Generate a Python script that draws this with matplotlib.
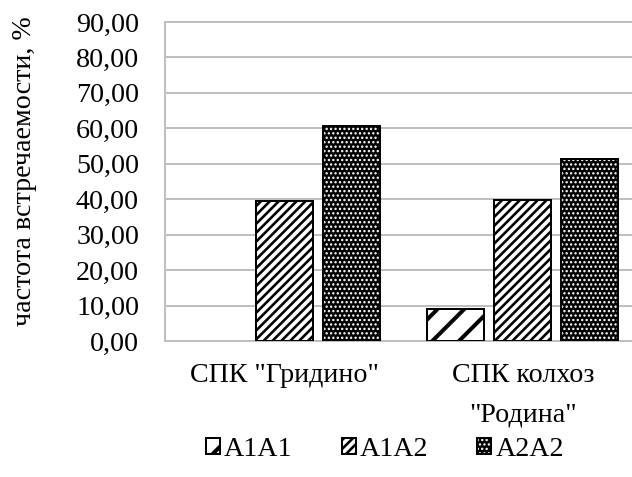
import matplotlib
matplotlib.use("Agg")
import matplotlib.pyplot as plt
import numpy as np
from matplotlib.legend_handler import HandlerTuple
from matplotlib.patches import Rectangle

plt.rcParams["font.family"] = ["Liberation Serif", "DejaVu Serif"]

# genotype frequencies by farm, %
farms = ['СПК "Гридино"', 'СПК колхоз\n"Родина"']
genotypes = ["A1A1", "A1A2", "A2A2"]
a1a1 = [0.0, 9.0]
a1a2 = [39.4, 39.7]
a2a2 = [60.6, 51.3]
yticks = np.arange(0, 91, 10)
ytick_labels = [f"{v:.2f}".replace(".", ",") for v in yticks]

DPI = 80
W, H = 632, 477
PT = 72 / DPI  # one pixel in points
FS = 28 * PT

# hatch pattern -> hatch line width (points)
HATCH_LW = {"/": 4.0 * PT, "///": 2.6 * PT, "...": 1.5 * PT}

fig = plt.figure(figsize=(W / DPI, H / DPI), dpi=DPI)
ax = fig.add_axes([165 / W, 136 / H, 477 / W, 319 / H])

x = np.arange(len(farms))
width = 0.239
step = 0.281
grid_c = "#bfbfbf"


def hatched_bars(xpos, vals, hatch, face, hcolor):
    fill = ax.bar(xpos, vals, width, color=face, edgecolor=hcolor,
                  hatch=hatch, linewidth=2 * PT, zorder=3)
    edges = ax.bar(xpos, vals, width, color="none", edgecolor="black",
                   linewidth=2 * PT, zorder=4)
    for pf, pe, v in zip(fill, edges, vals):
        pf.set_visible(v > 0)
        pe.set_visible(v > 0)
    return fill[-1], edges[-1]


h1 = hatched_bars(x - step, a1a1, "/", "white", "black")
h2 = hatched_bars(x, a1a2, "///", "white", "black")
h3 = hatched_bars(x + step, a2a2, "...", "black", "white")

ax.set_xlim(-0.5, len(farms) - 0.5)
ax.set_ylim(0, 90)
ax.set_yticks(yticks)
ax.set_yticklabels(ytick_labels, fontsize=FS)
ax.set_xticks(x)
ax.set_xticklabels(farms, fontsize=FS, linespacing=1.75)
ax.tick_params(axis="both", length=0)
ax.tick_params(axis="y", pad=26 * PT)
ax.tick_params(axis="x", pad=22 * PT)

ax.yaxis.grid(True, color=grid_c, linewidth=2 * PT, zorder=0)
ax.set_axisbelow(True)
for s in ax.spines.values():
    s.set_color(grid_c)
    s.set_linewidth(2 * PT)

ax.set_ylabel("частота встречаемости, %", fontsize=FS)
ax.yaxis.set_label_coords((37 - 165) / 477, (341 - 171) / 319)

fig.legend([h1, h2, h3], genotypes, loc="center",
           bbox_to_anchor=(385 / W, 1 - 449 / H),
           ncol=3, frameon=False, fontsize=FS,
           handler_map={tuple: HandlerTuple(ndivide=1)},
           handlelength=0.5, handleheight=0.5, handletextpad=0.15,
           columnspacing=1.75)

# per-pattern hatch line widths for bars and legend keys
for patch in fig.findobj(Rectangle):
    h = patch.get_hatch()
    if h in HATCH_LW:
        patch.set_hatch_linewidth(HATCH_LW[h])

fig.savefig("out.png", dpi=DPI)
